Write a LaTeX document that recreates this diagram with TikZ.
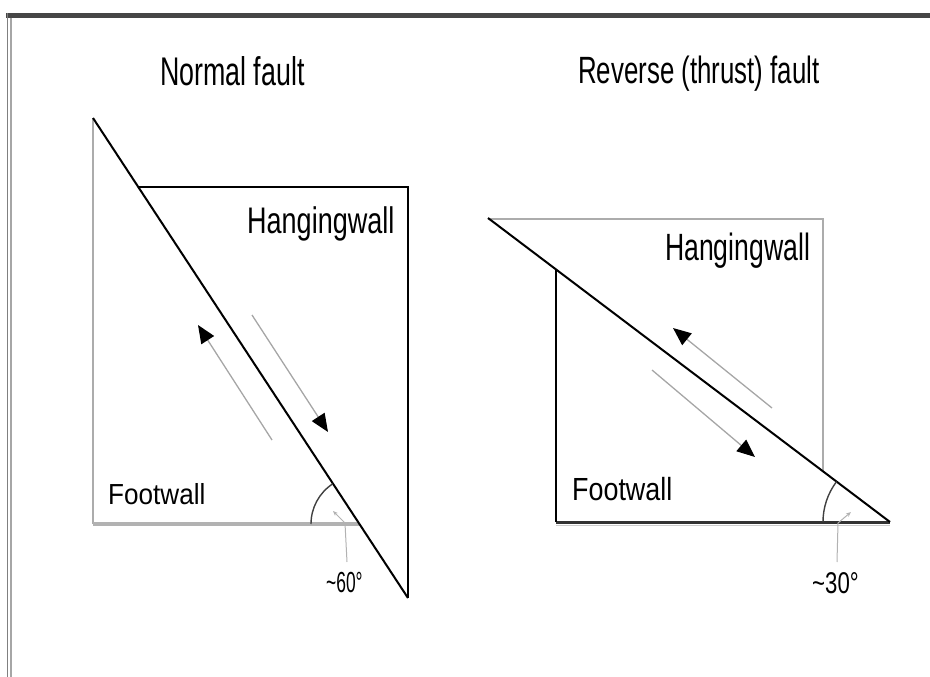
\documentclass[tikz,border=0pt]{standalone}
\usepackage{fontspec}
\setmainfont{Liberation Sans}
\usepackage{graphicx}
\usetikzlibrary{arrows.meta}
\newcommand\fsz[3]{\fontsize{#1}{#1}\selectfont\scalebox{#2}[1]{#3}}
\begin{document}
\begin{tikzpicture}[x={(1pt,0)},y={(0,-1pt)},
  frame/.style={line width=5pt, gray!55!black},
  faultline/.style={line width=2pt, black},
  blackwall/.style={line width=2.3pt, black},
  graywall/.style={line width=2pt, gray!65},
  slip/.style={line width=1.3pt, gray!70, -{Triangle[length=18pt,width=15pt,color=black]}},
  lead/.style={line width=1pt, gray!60, -{Stealth[length=5pt,width=4pt]}},
  anglearc/.style={line width=1.4pt, black!75},
  lbl/.style={inner sep=0pt, anchor=base west}]
\useasboundingbox (0,0) rectangle (930,677);
% frame
\draw[frame] (930,15.5) -- (6,15.5);
\draw[line width=1.5pt, gray] (7.5,13) -- (7.5,677);
\draw[line width=1.5pt, gray!70] (11,18) -- (11,677);

% titles
\node[lbl] (t1) at (160,86) {\fsz{40}{0.67}{Normal fault}};
\node[lbl] (t2) at (578,84) {\fsz{38}{0.68}{Reverse (thrust) fault}};

% ---------- Normal fault ----------
\coordinate (nf1) at (93,118);
\coordinate (nf2) at (408,598);
\coordinate (nfb) at (359,524);
\coordinate (nfl) at (93,524);
\coordinate (nhw1) at (138,187);
\coordinate (nhw2) at (408,187);
\draw[graywall] (nf1) -- (nfl);
\draw[line width=4pt, gray!60] (nfl) -- (nfb);
\draw[blackwall] (nhw1) -- (nhw2) -- (nf2);
\draw[faultline] (nf1) -- (nf2);
\node[lbl] (nhw) at (247,233) {\fsz{37}{0.73}{Hangingwall}};
\node[lbl] (nfw) at (108,504) {\fsz{29}{0.9}{Footwall}};
\coordinate (na1s) at (272,440);
\coordinate (na1e) at (198,325);
\coordinate (na2s) at (252,315);
\coordinate (na2e) at (328,432);
\draw[slip] (na1s) -- (na1e);
\draw[slip] (na2s) -- (na2e);
\draw[anglearc] (nfb) ++(180:48) arc (180:236.7:48);
\coordinate (nl1) at (347,562);
\coordinate (nl2) at (345,523);
\coordinate (nl3) at (333,511);
\draw[lead] (nl1) -- (nl2) -- (nl3);
\node[lbl] (n60) at (326,592) {\fsz{29}{0.6}{\textasciitilde 60°}};

% ---------- Reverse fault ----------
\coordinate (rf1) at (488,218);
\coordinate (rf2) at (890,522);
\coordinate (rhw1) at (488,219);
\coordinate (rhw2) at (823,219);
\coordinate (rhw3) at (823,472);
\coordinate (rfw1) at (556,270);
\coordinate (rfw2) at (556,522);
\draw[graywall] (rhw1) -- (rhw2) -- (rhw3);
\draw[line width=1.5pt, gray!40] (556,525.5) -- (890,525.5);
\draw[line width=3pt, black!80] (rfw2) -- (rf2);
\draw[blackwall] (rfw1) -- (rfw2);
\draw[faultline] (rf1) -- (rf2);
\node[lbl] (rhw) at (665,260) {\fsz{38}{0.7}{Hangingwall}};
\node[lbl] (rfw) at (572,500) {\fsz{32}{0.84}{Footwall}};
\coordinate (ra1s) at (772,408);
\coordinate (ra1e) at (673,328);
\coordinate (ra2s) at (652,370);
\coordinate (ra2e) at (755,457);
\draw[slip] (ra1s) -- (ra1e);
\draw[slip] (ra2s) -- (ra2e);
\draw[anglearc] (rf2) ++(180:67) arc (180:217.1:67);
\coordinate (rl1) at (837,562);
\coordinate (rl2) at (838,523);
\coordinate (rl3) at (851,512);
\draw[lead] (rl1) -- (rl2) -- (rl3);
\node[lbl] (r30) at (812,593) {\fsz{30}{0.74}{\textasciitilde 30°}};
\end{tikzpicture}
\end{document}
